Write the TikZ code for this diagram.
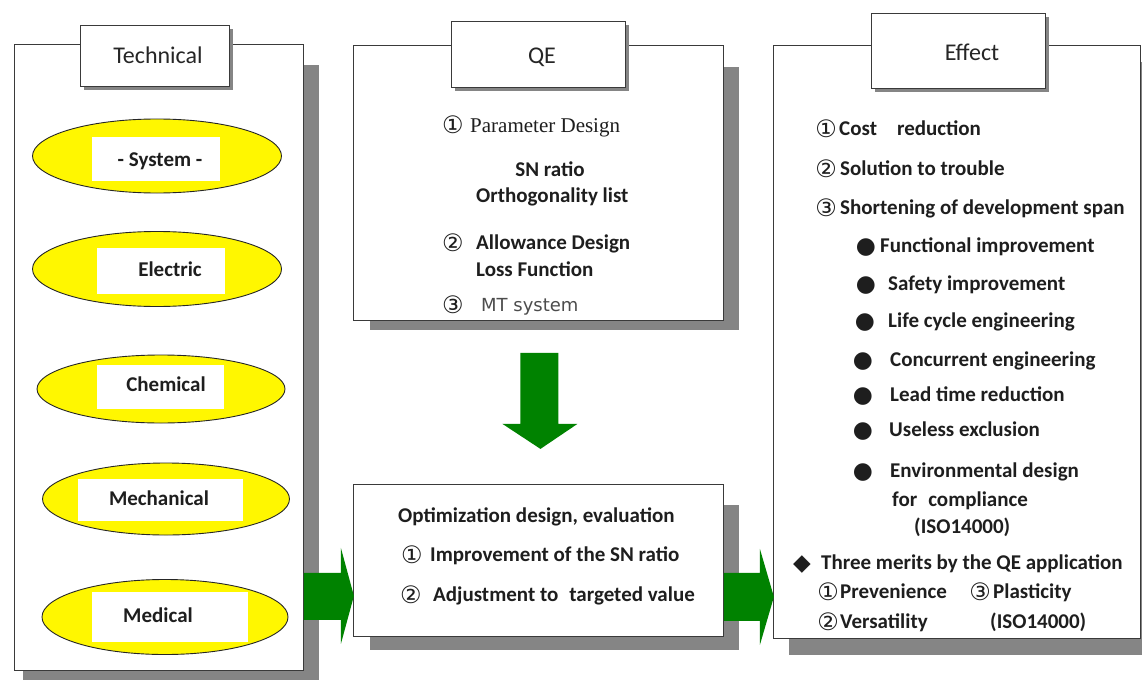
\documentclass[tikz,border=0pt]{standalone}
\usepackage{fontspec}
\setmainfont{Carlito}
\newfontfamily\symf{DejaVu Sans}
\newfontfamily\serf{Liberation Serif}
\usetikzlibrary{calc,shapes.geometric}
\definecolor{shad}{HTML}{858585}
\definecolor{ylw}{HTML}{FFF700}
\definecolor{grn}{HTML}{008200}
\definecolor{edge}{HTML}{3A3A3A}
\definecolor{ink}{HTML}{1E1E1E}
\begin{document}
\begin{tikzpicture}[x=1pt,y=-1pt,
  shadowbox/.style={fill=shad,draw=none},
  panel/.style={draw=edge,line width=0.9pt,fill=white,inner sep=0pt,anchor=north west},
  tab/.style={draw=edge,line width=1.3pt,fill=white,inner sep=0pt,anchor=north west},
  tabtext/.style={inner sep=0pt,text height=15.5pt,text depth=0pt,font=\fontsize{24}{27}\selectfont,text=black!85},
  oval/.style={ellipse,draw=black!85,line width=0.9pt,fill=ylw,inner sep=0pt},
  plate/.style={fill=white,draw=none,inner sep=0pt},
  lbl/.style={inner sep=0pt,text height=13.5pt,text depth=0pt,font=\bfseries\fontsize{21}{24}\selectfont,text=ink},
  tx/.style={inner sep=0pt,anchor=west,text height=13.5pt,text depth=0pt,font=\bfseries\fontsize{21}{24}\selectfont,text=ink},
  sertx/.style={inner sep=0pt,anchor=west,text height=14pt,text depth=0pt,font=\serf\fontsize{21}{24}\selectfont,text=ink},
  mttx/.style={inner sep=0pt,anchor=west,text height=13pt,text depth=0pt,font=\symf\fontsize{18}{22}\selectfont,text=black!70},
  sym/.style={inner sep=0pt,text height=16pt,text depth=0pt,font=\symf\fontsize{24}{26}\selectfont,text=ink},
  dot/.style={inner sep=0pt,text height=15pt,text depth=0pt,font=\symf\fontsize{23}{26}\selectfont,text=ink},
  garrow/.style={fill=grn,draw=none},
]
\useasboundingbox (0,0) rectangle (1142,682);
\fill[white] (0,0) rectangle (1142,682);

% ---------- shadows ----------
\fill[shadowbox] (23,65) rectangle (319,680);
\fill[shadowbox] (370,67) rectangle (739,330);
\fill[shadowbox] (370,505) rectangle (739,650);
\fill[shadowbox] (789,62) rectangle (1160,655);

% ---------- panels ----------
\node[panel,minimum width=289,minimum height=626] (tech) at (14,44) {};
\node[panel,minimum width=370,minimum height=275] (qe) at (353,45) {};
\node[panel,minimum width=370,minimum height=152] (opt) at (353,484) {};
\node[panel,minimum width=367,minimum height=593] (eff) at (773,45) {};

% ---------- tabs ----------
\fill[shadowbox] (84,29) rectangle (233,90);
\node[tab,minimum width=149,minimum height=61] (techtab) at (80,25) {};
\node[tabtext] (techt) at (158,56) {Technical};
\fill[shadowbox] (455,25) rectangle (629,91);
\node[tab,minimum width=174,minimum height=66] (qetab) at (451,21) {};
\node[tabtext] (qet) at (542,56) {QE};
\fill[shadowbox] (875,17) rectangle (1049,92);
\node[tab,minimum width=174,minimum height=75] (efftab) at (871,13) {};
\node[tabtext] (efft) at (972,53) {Effect};

% ---------- technical ellipses ----------
\node[oval,minimum width=249,minimum height=74] (e1) at (157,156) {};
\node[plate,minimum width=128,minimum height=44] (e1p) at (156,159) {};
\node[lbl] (e1t) at (160,160) {- System -};

\node[oval,minimum width=249,minimum height=75] (e2) at (157,269) {};
\node[plate,minimum width=128,minimum height=46] (e2p) at (161,271) {};
\node[lbl] (e2t) at (170,270) {Electric};

\node[oval,minimum width=248,minimum height=68] (e3) at (161,389) {};
\node[plate,minimum width=127,minimum height=44] (e3p) at (160,387) {};
\node[lbl] (e3t) at (166,385) {Chemical};

\node[oval,minimum width=247,minimum height=72] (e4) at (166,499) {};
\node[plate,minimum width=165,minimum height=42] (e4p) at (160,500) {};
\node[lbl] (e4t) at (159,499) {Mechanical};

\node[oval,minimum width=246,minimum height=75] (e5) at (165,617) {};
\node[plate,minimum width=156,minimum height=50] (e5p) at (170,617) {};
\node[lbl] (e5t) at (158,616) {Medical};

% ---------- QE contents ----------
\node[sym] (q1c) at (453,125) {①};
\node[sertx] (q1t) at (470,125) {Parameter Design};
\node[tx,anchor=center] (q1a) at (550,170) {SN ratio};
\node[tx] (q1b) at (476,196) {Orthogonality list};
\node[sym] (q2c) at (453,243) {②};
\node[tx] (q2t) at (476,243) {Allowance Design};
\node[tx] (q2b) at (476,270) {Loss Function};
\node[sym] (q3c) at (453,305) {③};
\node[mttx] (q3t) at (481,305) {MT system};

% ---------- optimization box ----------
\node[tx] (o0) at (398,516) {Optimization design, evaluation};
\node[sym] (o1c) at (412,555) {①};
\node[tx] (o1t) at (430,555) {Improvement of the SN ratio};
\node[sym] (o2c) at (411,595) {②};
\node[tx] (o2t) at (433,595) {Adjustment to\hspace{11pt}targeted value};

% ---------- effect contents ----------
\node[sym] (r1c) at (826,129) {①};
\node[tx] (r1t) at (839,129) {Cost\hspace{20pt}reduction};
\node[sym] (r2c) at (826,169) {②};
\node[tx] (r2t) at (840,169) {Solution to trouble};
\node[sym] (r3c) at (826,208) {③};
\node[tx] (r3t) at (840,208) {Shortening of development span};

\node[dot] (b1) at (866,246) {●};
\node[tx] (b1t) at (880,246) {Functional improvement};
\node[dot] (b2) at (866,284) {●};
\node[tx] (b2t) at (888,284) {Safety improvement};
\node[dot] (b3) at (865,321) {●};
\node[tx] (b3t) at (888,321) {Life cycle engineering};
\node[dot] (b4) at (863,360) {●};
\node[tx] (b4t) at (890,360) {Concurrent engineering};
\node[dot] (b5) at (863,395) {●};
\node[tx] (b5t) at (890,395) {Lead time reduction};
\node[dot] (b6) at (863,430) {●};
\node[tx] (b6t) at (889,430) {Useless exclusion};
\node[dot] (b7) at (863,471) {●};
\node[tx] (b7t) at (890,471) {Environmental design};
\node[tx] (b7u) at (892,500) {for\hspace{11pt}compliance};
\node[tx] (b7v) at (914,527) {(ISO14000)};

\node[dot] (m0) at (802,563) {◆};
\node[tx] (m0t) at (821,563) {Three merits by the QE application};
\node[sym] (m1c) at (828,592) {①};
\node[tx] (m1t) at (840,592) {Prevenience};
\node[sym] (m3c) at (980,592) {③};
\node[tx] (m3t) at (993,592) {Plasticity};
\node[sym] (m2c) at (828,622) {②};
\node[tx] (m2t) at (840,622) {Versatility};
\node[tx] (m2u) at (990,622) {(ISO14000)};

% ---------- block arrows ----------
% QE -> optimization (down)
\path (qe.south) ++(-18,32) coordinate (da);
\fill[garrow] (da) -- ++(38,0) -- ++(0,71) -- ++(19,0) -- ++(-37,25) -- ++(-38,-25) -- ++(18,0) -- cycle;
% technical -> optimization
\path (tech.south east) ++(0,-98) coordinate (la);
\fill[garrow] (la) -- ++(37,0) -- ++(0,-25) -- ++(13,48) -- ++(-13,48) -- ++(0,-24) -- ++(-37,0) -- cycle;
% optimization -> effect
\path (opt.south east) ++(0,-64) coordinate (ra);
\fill[garrow] (ra) -- ++(36,0) -- ++(0,-24) -- ++(14,48) -- ++(-14,48) -- ++(0,-24) -- ++(-36,0) -- cycle;
\end{tikzpicture}
\end{document}
